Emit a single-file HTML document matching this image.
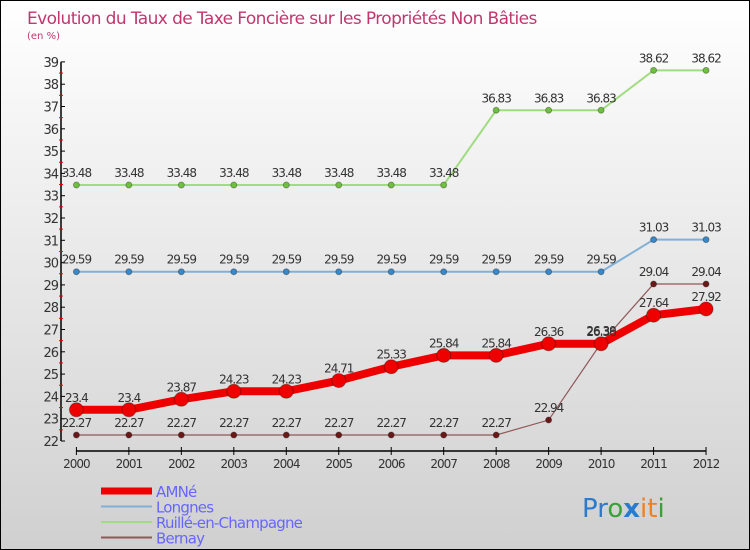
<!DOCTYPE html>
<html><head><meta charset="utf-8"><style>
body{margin:0}
#c{width:750px;height:550px;position:relative;box-sizing:border-box;border:1px solid #000;background:linear-gradient(#fff,#d0d0d0);font-family:"DejaVu Sans","Liberation Sans",sans-serif;overflow:hidden}
</style></head><body>
<div id="c">
<svg id="s" width="750" height="550" style="position:absolute;left:0;top:0">
<text x="26" y="23" font-size="17" letter-spacing="-0.6" fill="#c2366e">Evolution du Taux de Taxe Foncière sur les Propriétés Non Bâties</text>
<text x="26" y="38" font-size="10" fill="#c2366e">(en %)</text>
<g id="axes"></g><g id="series"></g><g id="legend"></g>
<text x="581" y="516" font-size="26" font-family="'DejaVu Sans',sans-serif"><tspan fill="#2a7bd0">Pr</tspan><tspan fill="#3aa03a">o</tspan><tspan fill="#2a7bd0" font-weight="bold">x</tspan><tspan fill="#f08020">it</tspan><tspan fill="#3aa03a">i</tspan></text>
</svg>
</div>
<script>
const years=[2000,2001,2002,2003,2004,2005,2006,2007,2008,2009,2010,2011,2012];
const amne=[23.4,23.4,23.87,24.23,24.23,24.71,25.33,25.84,25.84,26.36,26.36,27.64,27.92];
const longnes=[29.59,29.59,29.59,29.59,29.59,29.59,29.59,29.59,29.59,29.59,29.59,31.03,31.03];
const ruille=[33.48,33.48,33.48,33.48,33.48,33.48,33.48,33.48,36.83,36.83,36.83,38.62,38.62];
const bernay=[22.27,22.27,22.27,22.27,22.27,22.27,22.27,22.27,22.27,22.94,26.39,29.04,29.04];
const yTicks=[22,23,24,25,26,27,28,29,30,31,32,33,34,35,36,37,38,39];
const seriesNames=["AMNé","Longnes","Ruillé-en-Champagne","Bernay"];
</script>
<script>
const NS="http://www.w3.org/2000/svg";
const X=i=>75.4+i*52.47;
const Y=v=>440-(v-22)*22.3;
function mk(t,a,p){const e=document.createElementNS(NS,t);for(const k in a)e.setAttribute(k,a[k]);p.appendChild(e);return e;}
const ax=document.getElementById('axes');
const yl=mk('line',{x1:60,x2:60,y1:Y(39),y2:Y(22),stroke:'#000','stroke-width':1.5},ax);


yTicks.forEach(v=>{
 const t=mk('line',{x1:60,x2:64,y1:Y(v),y2:Y(v),stroke:'#000'},ax);
 
 
 if(v<39){const m=mk('line',{x1:58,x2:62,y1:Y(v+0.5),y2:Y(v+0.5),stroke:'#e00'},ax);
 
 }
 const l=mk('text',{x:57,y:Y(v)+5,'text-anchor':'end','font-size':13,fill:'#333','letter-spacing':'-1'},ax);
 
 
 l.textContent=v;
});
const xl=mk('line',{x1:X(0),x2:X(12),y1:450,y2:450,stroke:'#000','stroke-width':1.5},ax);


years.forEach((y,i)=>{
 const t=mk('line',{x1:X(i),x2:X(i),y1:446,y2:454,stroke:'#000'},ax);
 
 
 const l=mk('text',{x:X(i),y:467,'text-anchor':'middle','font-size':12,fill:'#333','letter-spacing':'-1'},ax);
 
 
 l.textContent=y;
});
const sg=document.getElementById('series');
const defs=[
 {d:ruille,c:'#a0dc80',p:'#70c040',w:2,r:3,n:'ruille'},
 {d:longnes,c:'#80b0d8',p:'#3a88c8',w:2,r:3,n:'longnes'},
 {d:bernay,c:'#905858',p:'#6a1818',w:1.2,r:3,n:'bernay'},
 {d:amne,c:'#ee0000',p:'#ee0000',w:8,r:7,n:'amne'}
];
defs.forEach(s=>{
 const pl=mk('polyline',{points:s.d.map((v,i)=>X(i)+','+Y(v)).join(' '),fill:'none',stroke:s.c,'stroke-width':s.w},sg);
 
 
 s.d.forEach((v,i)=>{
  const c=mk('circle',{cx:X(i),cy:Y(v),r:s.r,fill:s.p,stroke:'rgba(0,0,0,0.3)'},sg);
  
  
  const t=mk('text',{x:X(i),y:Y(v)-8,'text-anchor':'middle','font-size':12,fill:'#333','letter-spacing':'-1'},sg);
  
  
  t.textContent=v;
 });
});
const lg=document.getElementById('legend');
const lc=[['#ee0000',7],['#80b0d8',2],['#a0dc80',2],['#905858',2]];
seriesNames.forEach((n,i)=>{
 const y=490+i*15.5;
 const l=mk('line',{x1:100,x2:151,y1:y,y2:y,stroke:lc[i][0],'stroke-width':lc[i][1]},lg);
 
 
 const t=mk('text',{x:155,y:y+6,'font-size':15,fill:'#6666ff','letter-spacing':'-0.8'},lg);
 
 
 t.textContent=n;
});
</script>
</body></html>
